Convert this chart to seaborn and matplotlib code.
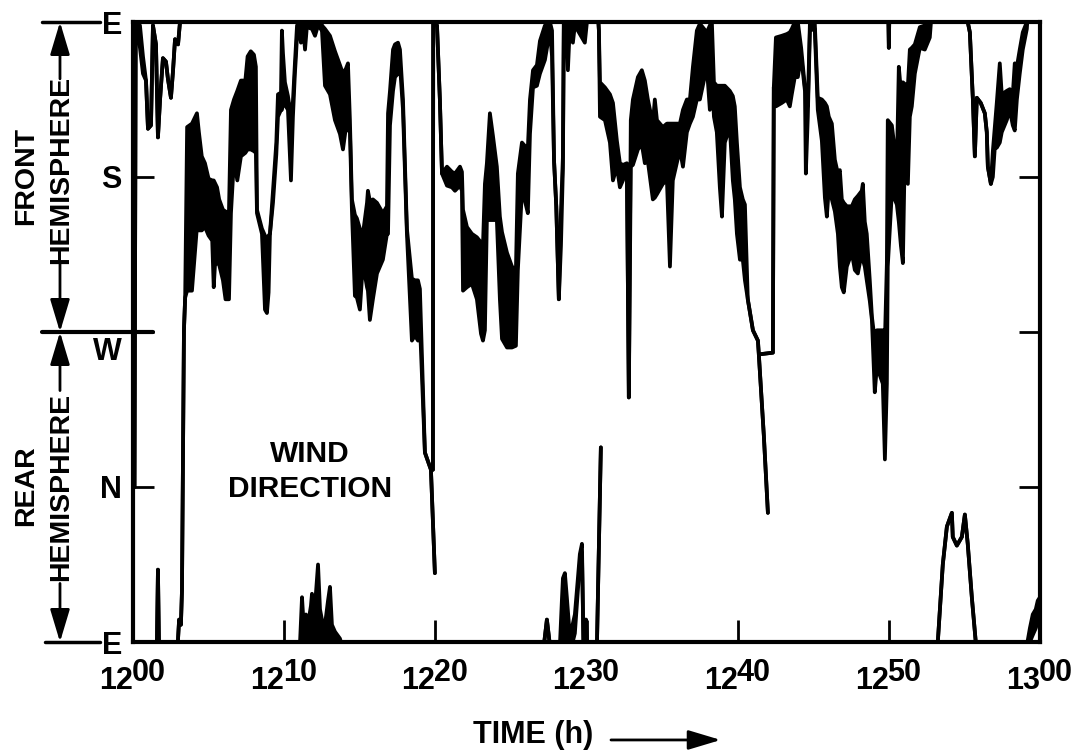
import numpy as np
import pandas as pd
import matplotlib
matplotlib.use("Agg")
import matplotlib.pyplot as plt
import seaborn as sns
from matplotlib.transforms import ScaledTranslation, blended_transform_factory

# ---------------- data: wind direction trace (t = minutes after 12:00, deg: 0=E,90=N,180=W,270=S,360=E)
# each tuple: (time, upper envelope, lower envelope); thin trace where upper == lower
front_start = [(0.10, 90, 90), (0.18, 360, 360), (0.46, 358, 345), (0.66, 340, 330), (0.86, 326, 326),
               (0.99, 298, 298), (1.19, 300, 300), (1.32, 358, 358), (1.52, 347, 347), (1.65, 293, 293),
               (1.79, 315, 315), (1.98, 339, 339), (2.18, 337, 337), (2.31, 327, 327), (2.51, 316, 316),
               (2.65, 332, 332), (2.78, 350, 350), (2.98, 347, 347), (3.11, 360, 360), (3.15, 366, 366)]
rear_spike_1 = [(1.58, -3, -3), (1.65, 42, 42), (1.72, -3, -3)]
trace_1203_1212 = [(2.95, -3, -3), (3.05, 13, 13), (3.17, 10, 10), (3.24, 30, 30), (3.37, 181, 181),
                   (3.45, 200, 200), (3.58, 299, 204), (3.90, 301, 204), (4.23, 307, 241), (4.36, 296, 239),
                   (4.55, 282, 239), (4.76, 278, 241), (5.00, 269, 236), (5.24, 268, 233), (5.34, 268, 206),
                   (5.45, 266, 223), (5.56, 264, 220), (5.70, 257, 219), (5.95, 251, 210), (6.12, 250, 199),
                   (6.30, 249, 199), (6.35, 251, 199), (6.48, 309, 249), (6.68, 315, 280), (6.90, 320, 268),
                   (7.14, 326, 282), (7.43, 326, 284), (7.58, 340, 286), (7.79, 343, 286), (8.00, 341, 285),
                   (8.13, 334, 284), (8.20, 251, 249), (8.53, 240, 237), (8.73, 236, 193), (8.86, 233, 191),
                   (8.97, 236, 203), (9.06, 237, 237), (9.26, 262, 255), (9.48, 290, 283), (9.59, 318, 305),
                   (9.79, 319, 309), (9.85, 355, 309), (9.92, 342, 312), (10.05, 325, 312), (10.25, 317, 309),
                   (10.45, 305, 268), (10.58, 314, 305), (10.71, 336, 330), (10.78, 347, 340), (10.85, 358, 352),
                   (11.00, 360, 355), (11.11, 360, 348), (11.25, 360, 357), (11.38, 360, 344), (11.50, 360, 357),
                   (11.84, 360, 356), (12.04, 360, 352), (12.24, 360, 358), (12.50, 358, 355)]
trace_1212_1220 = [(12.50, 358, 355), (12.70, 356, 323), (13.03, 352, 318), (13.36, 343, 303), (13.69, 335, 295),
                   (13.89, 330, 286), (14.09, 333, 299), (14.22, 336, 297), (14.35, 303, 297), (14.48, 257, 251),
                   (14.68, 248, 201), (14.81, 246, 200), (15.01, 240, 193), (15.21, 237, 220), (15.48, 255, 206),
                   (15.54, 262, 204), (15.67, 256, 187), (15.87, 257, 199), (16.14, 255, 214), (16.53, 249, 222),
                   (16.80, 253, 237), (16.87, 307, 237), (17.00, 320, 300), (17.20, 344, 320), (17.33, 347, 328),
                   (17.53, 348, 330), (17.66, 344, 335), (17.86, 315, 309), (18.12, 240, 237), (18.45, 211, 175),
                   (18.65, 210, 178), (18.85, 210, 175), (18.98, 205, 185), (19.31, 110, 110), (19.71, 100, 100),
                   (19.84, 100, 100), (19.86, 360, 360)]
tip_1220 = [(19.71, 100, 100), (19.97, 40, 40)]
trace_1220_1230 = [(19.86, 360, 360), (20.11, 358, 358), (20.30, 315, 315), (20.44, 272, 272), (20.77, 276, 265),
                   (21.10, 273, 264), (21.30, 272, 262), (21.63, 276, 265), (21.76, 273, 262), (21.83, 251, 204),
                   (22.09, 241, 206), (22.42, 237, 208), (22.75, 235, 199), (23.02, 232, 179), (23.15, 230, 175),
                   (23.28, 266, 181), (23.41, 278, 245), (23.61, 307, 245), (23.81, 294, 245), (24.07, 276, 245),
                   (24.27, 247, 199), (24.41, 238, 176), (24.74, 226, 171), (25.07, 218, 171), (25.33, 216, 172),
                   (25.46, 272, 216), (25.73, 290, 262), (25.93, 288, 256), (26.12, 287, 249), (26.26, 315, 295),
                   (26.46, 332, 322), (26.72, 335, 323), (26.92, 349, 330), (27.25, 358, 338), (27.58, 360, 355),
                   (27.72, 355, 340), (27.85, 280, 280), (28.00, 253, 253), (28.17, 199, 199), (28.31, 250, 230),
                   (28.44, 282, 275), (28.50, 360, 360), (28.64, 360, 358), (28.77, 360, 332), (28.90, 360, 358),
                   (29.10, 360, 348), (29.23, 360, 358), (29.89, 360, 348), (30.03, 360, 360), (30.08, 366, 366)]
rear_cluster_1211 = [(11.04, -2, -2), (11.18, 26, -2), (11.31, 7, -2), (11.44, 16, -2), (11.57, 10, -2),
                     (11.77, 21, -2), (11.84, 28, -2), (11.97, 16, -2), (12.04, 21, -2), (12.24, 45, -2),
                     (12.37, 19, -2), (12.50, 13, -2), (12.70, 10, -2), (12.90, 24, -2), (13.03, 32, -2),
                     (13.16, 10, -2), (13.36, 6, -2), (13.69, 2, -2), (13.82, -2, -2)]
rear_spike_1227 = [(27.18, -2, -2), (27.38, 13, 13), (27.58, -2, -2)]
rear_cluster_1228 = [(28.24, -2, -2), (28.37, 24, -2), (28.44, 37, -2), (28.57, 40, -2), (28.70, 26, -2),
                     (28.84, 10, -2), (29.03, 8, -2), (29.23, 16, 5), (29.43, 37, 30), (29.56, 51, 45),
                     (29.70, 57, 52), (29.80, -2, -2)]
rear_spike_1230 = [(29.90, -2, -2), (29.96, 13, 13), (30.03, -2, -2)]
rear_line_1231 = [(30.69, -2, -2), (30.95, 113, 113)]
trace_1231_1242 = [(30.75, 366, 366), (30.82, 355, 355), (30.89, 325, 305), (31.22, 322, 303), (31.55, 318, 290),
                   (31.75, 313, 268), (32.01, 291, 276), (32.21, 278, 264), (32.41, 277, 268), (32.67, 278, 276),
                   (32.80, 142, 142), (32.93, 303, 276), (33.07, 315, 277), (33.40, 328, 286), (33.66, 332, 289),
                   (33.86, 326, 278), (34.06, 315, 279), (34.39, 301, 257), (34.52, 315, 258), (34.66, 303, 260),
                   (35.05, 299, 266), (35.32, 301, 268), (35.52, 301, 218), (35.71, 301, 268), (36.18, 301, 286),
                   (36.38, 309, 276), (36.64, 315, 296), (36.84, 315, 301), (37.04, 334, 305), (37.30, 355, 315),
                   (37.50, 359, 315), (37.96, 354, 334), (38.16, 358, 309), (38.29, 361, 329), (38.43, 325, 305),
                   (38.62, 323, 296), (38.82, 323, 264), (38.96, 323, 247), (39.15, 323, 290), (39.48, 320, 299),
                   (39.68, 317, 268), (39.81, 311, 257), (39.95, 290, 237), (40.15, 264, 222), (40.34, 257, 222),
                   (40.48, 254, 210), (40.67, 199, 199), (41.01, 181, 181), (41.34, 175, 175), (41.40, 167, 167),
                   (42.33, 168, 168), (42.39, 322, 322)]
tip_1242 = [(41.40, 167, 167), (41.73, 120, 120), (42.00, 75, 75)]
trace_1242_1253 = [(42.39, 322, 322), (42.53, 351, 311), (42.92, 352, 313), (43.25, 353, 315), (43.45, 354, 311),
                   (43.58, 356, 318), (43.78, 360, 328), (43.98, 360, 328), (44.20, 345, 340), (44.45, 322, 320),
                   (44.51, 319, 272), (44.64, 311, 305), (44.78, 360, 355), (45.10, 360, 356), (45.30, 316, 309),
                   (45.57, 315, 291), (45.77, 313, 258), (45.90, 311, 247), (46.03, 305, 264), (46.23, 301, 257),
                   (46.43, 280, 250), (46.63, 272, 237), (46.76, 274, 218), (46.89, 257, 206), (47.02, 255, 203),
                   (47.22, 253, 218), (47.55, 253, 226), (47.75, 257, 216), (47.95, 259, 214), (48.21, 262, 226),
                   (48.28, 266, 222), (48.41, 244, 218), (48.54, 237, 210), (48.74, 210, 198), (48.88, 189, 187),
                   (49.07, 175, 145), (49.21, 181, 160), (49.40, 181, 155), (49.60, 181, 150), (49.74, 175, 106),
                   (49.87, 220, 150), (49.93, 303, 218), (50.20, 300, 261), (50.53, 276, 254), (50.66, 334, 244),
                   (50.80, 320, 230), (50.93, 325, 220), (51.06, 324, 286), (51.26, 323, 266), (51.39, 344, 305),
                   (51.52, 345, 311), (51.72, 347, 330), (52.05, 357, 345), (52.38, 358, 344), (52.71, 360, 351),
                   (52.84, 366, 366)]
stub_1250 = [(49.97, 362, 362), (50.00, 345, 345), (50.03, 362, 362)]
rear_bump_1254 = [(53.20, -2, -2), (53.24, 0, 0), (53.57, 45, 45), (53.84, 67, 67), (54.17, 75, 75),
                  (54.23, 61, 61), (54.50, 56, 56), (54.83, 61, 61), (55.03, 74, 74), (55.22, 57, 57),
                  (55.49, 26, 26), (55.75, 0, 0), (55.80, -2, -2)]
trace_1255_1300 = [(55.15, 366, 366), (55.22, 360, 360), (55.36, 354, 354), (55.56, 315, 315), (55.69, 282, 282),
                   (55.82, 316, 316), (56.08, 313, 313), (56.35, 307, 307), (56.48, 296, 296), (56.55, 276, 276),
                   (56.75, 266, 266), (56.88, 285, 270), (57.01, 299, 287), (57.14, 313, 287), (57.34, 336, 290),
                   (57.47, 318, 296), (57.80, 320, 303), (58.00, 321, 309), (58.20, 318, 300), (58.33, 336, 297),
                   (58.47, 334, 315), (58.66, 344, 330), (58.86, 354, 344), (59.13, 360, 356), (59.20, 366, 366)]
rear_end = [(59.13, -2, -2), (59.33, 8, 0), (59.52, 16, 4), (59.72, 19, 8), (59.85, 24, 12), (60.0, 26, 14)]

SEGMENTS = [front_start, rear_spike_1, trace_1203_1212, trace_1212_1220, tip_1220, trace_1220_1230,
            rear_cluster_1211, rear_spike_1227, rear_cluster_1228, rear_spike_1230, rear_line_1231,
            trace_1231_1242, tip_1242, trace_1242_1253, stub_1250, rear_bump_1254, trace_1255_1300, rear_end]

y_ticks = [0, 90, 180, 270, 360]
y_labels = ["E", "N", "W", "S", "E"]
x_ticks = [0, 10, 20, 30, 40, 50, 60]
tick_hours = ["12", "12", "12", "12", "12", "12", "13"]
tick_minutes = ["00", "10", "20", "30", "40", "50", "00"]

# ---------------- style
sns.set_theme(style="white")
plt.rcParams["font.family"] = ["Liberation Sans", "DejaVu Sans"]
plt.rcParams["font.weight"] = "bold"
plt.rcParams["text.color"] = "black"

fig = plt.figure(figsize=(10.86, 7.5), dpi=100)
ax = fig.add_axes([133 / 1086, 108 / 750, 907 / 1086, 620 / 750])

rows = []
for k, seg in enumerate(SEGMENTS):
    for t, hi, lo in seg:
        rows.append((k, t, hi, lo))
df = pd.DataFrame(rows, columns=["seg", "t", "hi", "lo"])

for col in ["hi", "lo"]:
    sns.lineplot(data=df, x="t", y=col, units="seg", estimator=None, sort=False,
                 color="black", lw=2.7, ax=ax, legend=False,
                 solid_joinstyle="round", solid_capstyle="round")
for k, g in df.groupby("seg"):
    ax.fill_between(g["t"].values, g["lo"].values, g["hi"].values, color="black", lw=0)

ax.set_xlim(0, 60)
ax.set_ylim(0, 360)
ax.set_xlabel("")
ax.set_ylabel("")
for sp in ax.spines.values():
    sp.set_visible(True)
    sp.set_color("black")
    sp.set_linewidth(3)

ax.set_yticks(y_ticks)
ax.set_yticklabels(y_labels, fontsize=22, fontweight="bold")
ax.set_xticks(x_ticks)
ax.set_xticklabels(tick_hours, fontsize=22, fontweight="bold", ha="right")
ax.tick_params(axis="y", which="major", direction="in", length=15, width=2, left=True, right=True,
               labelleft=True, labelright=False, pad=8, colors="black")
ax.tick_params(axis="x", which="major", direction="in", length=16, width=2, bottom=True, top=False,
               pad=17, colors="black")

# offsets of individual tick labels
for lab in ax.get_xticklabels():
    lab.set_transform(lab.get_transform() + ScaledTranslation(0, 0, fig.dpi_scale_trans))
w_lab = ax.get_yticklabels()[2]
w_lab.set_transform(w_lab.get_transform() + ScaledTranslation(0, -17 / 100, fig.dpi_scale_trans))

# superscript minutes on the time labels
for t, m in zip(x_ticks, tick_minutes):
    ax.annotate(m, xy=(t, 0), xycoords=ax.get_xaxis_transform(), xytext=(-1.0, -11.5),
                textcoords="offset points", ha="left", va="top", fontsize=22, fontweight="bold",
                color="black")

# time axis label with arrow
ax.text(0.441, -0.15, "TIME (h)", transform=ax.transAxes, ha="center", va="center",
        fontsize=22, fontweight="bold", color="black")
ax.annotate("", xy=(0.648, -0.158), xytext=(0.527, -0.158), xycoords="axes fraction",
            arrowprops=dict(arrowstyle="-|>,head_length=1.0,head_width=0.3", lw=2, color="black",
                            mutation_scale=20, shrinkA=0, shrinkB=0))

# hemisphere annotation on the left
trans = blended_transform_factory(ax.transAxes, ax.transData)
ax.plot([-0.1003, -0.0364], [360, 360], transform=trans, color="black", lw=2.5, clip_on=False)
ax.plot([-0.1003, 0.022], [180, 180], transform=trans, color="black", lw=3, clip_on=False)
ax.plot([-0.097, -0.0364], [0, 0], transform=trans, color="black", lw=2.5, clip_on=False)

ax.text(-0.118, 270.5, "FRONT", rotation=90, transform=trans, ha="center", va="center",
        fontsize=20.5, fontweight="bold", color="black")
ax.text(-0.0794, 274, "HEMISPHERE", rotation=90, transform=trans, ha="center", va="center",
        fontsize=20.5, fontweight="bold", color="black")
ax.text(-0.118, 91, "REAR", rotation=90, transform=trans, ha="center", va="center",
        fontsize=20.5, fontweight="bold", color="black")
ax.text(-0.0794, 90, "HEMISPHERE", rotation=90, transform=trans, ha="center", va="center",
        fontsize=20.5, fontweight="bold", color="black")
arrow_kw = dict(arrowstyle="-|>,head_length=1.0,head_width=0.3", lw=2, color="black",
                mutation_scale=20, shrinkA=0, shrinkB=0)
xa = -0.0805
for tip, tail in [(360, 327), (180, 220), (180, 146), (0, 34)]:
    ax.annotate("", xy=(xa, tip), xytext=(xa, tail), xycoords=trans, textcoords=trans,
                arrowprops=arrow_kw, annotation_clip=False)

ax.text(11.7, 99, "WIND\nDIRECTION", ha="center", va="center", fontsize=21.5, fontweight="bold",
        linespacing=1.3, color="black")

fig.savefig("out.png", dpi=100)
